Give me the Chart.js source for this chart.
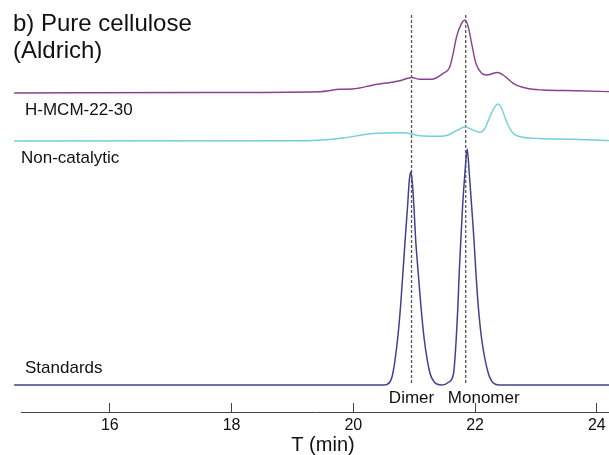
<!DOCTYPE html>
<html>
<head>
<meta charset="utf-8">
<script src="https://cdn.jsdelivr.net/npm/chart.js@4.4.1/dist/chart.umd.min.js"></script>
<style>
  html, body { margin: 0; padding: 0; background: #fff; }
</style>
</head>
<body>
<canvas id="chart" width="609" height="455"></canvas>
<script>
// retention times (min) and detector signal (a.u.)
const hmcmTime = [14.427, 17.481, 19.452, 19.780, 19.993, 20.327, 20.765, 20.957, 21.094, 21.286, 21.476, 21.586, 21.640, 21.696, 21.778, 21.833, 21.887, 21.943, 22.013, 22.107, 22.189, 22.366, 22.461, 22.626, 22.846, 23.118, 23.667, 24.25];
const hmcmSignal = [0, 0.5, 1.3, 3.7, 4, 8, 12.3, 15.5, 13.7, 13.7, 19.7, 26.3, 39.7, 56.3, 69.7, 73, 66.3, 49.7, 29.7, 19.7, 18, 20.5, 18, 9.7, 4.7, 3, 2.3, 1.3];

const noncatTime = [14.427, 19.238, 19.829, 20.327, 20.819, 20.957, 21.094, 21.422, 21.558, 21.696, 21.833, 21.943, 22.079, 22.161, 22.243, 22.325, 22.379, 22.435, 22.517, 22.626, 22.790, 23.064, 23.611, 24.25];
const noncatSignal = [0, 0.3, 3, 7.5, 8.3, 7, 5.3, 4.8, 6, 10.3, 14, 11.7, 8.7, 12.7, 24.3, 34.3, 37, 32.7, 19.3, 7.7, 3.7, 2.5, 1.7, 0.3];

const stdTime = [14.427, 20.50, 20.60, 20.65, 20.727, 20.776, 20.814, 20.852, 20.891, 20.92, 20.941, 20.965, 20.995, 21.023, 21.066, 21.110, 21.164, 21.258, 21.33, 21.45, 21.57, 21.647, 21.690, 21.718, 21.739, 21.767, 21.795, 21.833, 21.871, 21.904, 21.943, 21.981, 22.014, 22.052, 22.108, 22.216, 22.30, 22.40, 24.25];
const stdSignal = [0, 0, 3, 12, 46, 79, 112, 146, 179, 205, 213, 205, 179, 146, 112, 79, 46, 12, 3, 0, 3, 12, 46, 79, 112, 146, 179, 212, 236, 212, 179, 146, 112, 79, 46, 12, 2, 0, 0];

// reference lines (min)
const markerNames = ['Dimer', 'Monomer'];
const markerTimes = [20.956, 21.846];

const xTicks = [16, 18, 20, 22, 24];
const traceNames = ['H-MCM-22-30', 'Non-catalytic', 'Standards'];

// vertical stacking of the traces
const offsetHmcm = 319;
const offsetNoncat = 271;
const offsetStd = 27;

const FONT = '"Liberation Sans", Arial, sans-serif';

function trace(times, values, offset) {
  return times.map((t, i) => ({ x: t, y: values[i] + offset }));
}

const datasets = [
  { data: trace(hmcmTime, hmcmSignal, offsetHmcm), borderColor: '#8B3F8F', borderWidth: 1.4 },
  { data: trace(noncatTime, noncatSignal, offsetNoncat), borderColor: '#72CFDB', borderWidth: 1.4 },
  { data: trace(stdTime, stdSignal, offsetStd), borderColor: '#41418F', borderWidth: 1.5 }
].map(d => Object.assign(d, {
  pointRadius: 0, fill: false, clip: false, cubicInterpolationMode: 'monotone'
}));

markerTimes.forEach(t => {
  datasets.push({
    data: [{ x: t, y: 29 }, { x: t, y: 397 }],
    borderColor: '#555', borderWidth: 1.3, borderDash: [3, 2],
    pointRadius: 0, fill: false, clip: false
  });
});

// text annotations
const textPlugin = {
  id: 'texts',
  afterDraw(chart) {
    const ctx = chart.ctx;
    const xs = chart.scales.x;
    ctx.save();
    ctx.fillStyle = '#111';
    ctx.textBaseline = 'alphabetic';
    ctx.textAlign = 'left';
    ctx.font = '24px ' + FONT;
    ctx.fillText('b) Pure cellulose', 13, 31);
    ctx.fillText('(Aldrich)', 13, 58);
    ctx.font = '17px ' + FONT;
    ctx.fillText(traceNames[0], 25, 115);
    ctx.fillText(traceNames[1], 21, 163);
    ctx.fillText(traceNames[2], 25, 373);
    ctx.textAlign = 'center';
    ctx.fillText(markerNames[0], xs.getPixelForValue(markerTimes[0]), 403);
    ctx.fillText(markerNames[1], xs.getPixelForValue(markerTimes[1]) + 18, 403);
    ctx.font = '20px ' + FONT;
    ctx.fillText('T (min)', 323, 451);
    ctx.restore();
  }
};

new Chart(document.getElementById('chart'), {
  type: 'line',
  data: { datasets },
  options: {
    responsive: false,
    animation: false,
    devicePixelRatio: 1,
    layout: { padding: { left: 21, right: 0, top: 0, bottom: 0 } },
    plugins: { legend: { display: false }, tooltip: { enabled: false } },
    scales: {
      x: {
        type: 'linear',
        min: 14.54,
        max: 24.2,
        afterBuildTicks: s => { s.ticks = xTicks.map(v => ({ value: v })); },
        afterFit: s => { s.height = 43; s.paddingLeft = 0; s.paddingRight = 0; },
        grid: { drawOnChartArea: false, drawTicks: true, tickLength: -9, color: '#444', lineWidth: 1 },
        border: { display: true, color: '#444', width: 1 },
        ticks: { padding: 13, color: '#111', font: { size: 16, family: FONT } }
      },
      y: {
        type: 'linear',
        display: false,
        min: 0,
        max: 412
      }
    }
  },
  plugins: [textPlugin]
});
</script>
</body>
</html>
